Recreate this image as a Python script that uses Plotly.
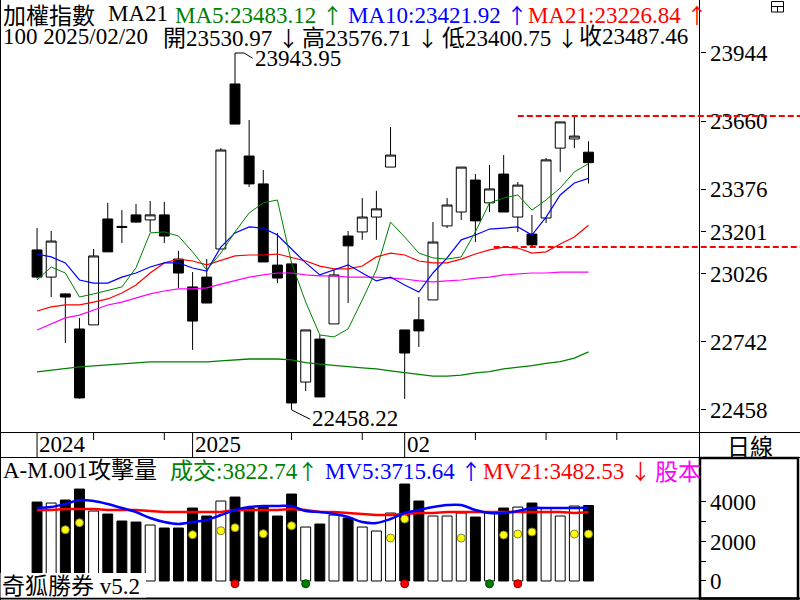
import plotly.graph_objects as go

# ---------------- data ----------------
dates = ["2024-12-17", "2024-12-18", "2024-12-19", "2024-12-20", "2024-12-23", "2024-12-24",
         "2024-12-25", "2024-12-26", "2024-12-27", "2024-12-30", "2024-12-31",
         "2025-01-02", "2025-01-03", "2025-01-06", "2025-01-07", "2025-01-08", "2025-01-09",
         "2025-01-10", "2025-01-13", "2025-01-14", "2025-01-15", "2025-01-16", "2025-01-17",
         "2025-01-20", "2025-01-21", "2025-01-22",
         "2025-02-03", "2025-02-04", "2025-02-05", "2025-02-06", "2025-02-07", "2025-02-10",
         "2025-02-11", "2025-02-12", "2025-02-13", "2025-02-14", "2025-02-17", "2025-02-18",
         "2025-02-19", "2025-02-20"]

opens = [23124, 23011, 22941, 22795, 22812, 23253, 23222, 23270, 23249, 23270,
         23086, 22970, 23011, 23128, 23815, 23515, 23399, 23061, 23066, 22574,
         22753, 22816, 23182, 23199, 23261, 23469, 22791, 22833, 22916, 23224,
         23282, 23415, 23320, 23440, 23261, 23190, 23257, 23548, 23586, 23530.97]
highs = [23215, 23203, 22943, 22841, 23128, 23320, 23290, 23315, 23328, 23324,
         23120, 23032, 23086, 23548, 23943.95, 23665, 23457, 23195, 23070, 22791,
         22770, 23041, 23203, 23340, 23370, 23636, 22791, 22928, 23240, 23340,
         23469, 23440, 23478, 23519, 23407, 23270, 23507, 23657, 23682, 23576.71]
lows = [23005, 22928, 22737, 22505, 22812, 23116, 23153, 23236, 23199, 23153,
        22966, 22708, 22903, 23128, 23648, 23386, 23074, 22986, 22458.22, 22537,
        22512, 22816, 22903, 23166, 23166, 23469, 22504, 22720, 22916, 23215,
        23249, 23157, 23282, 23282, 23199, 23136, 23236, 23449, 23548, 23400.75]
closes = [23011, 23161, 22928, 22508, 23099, 23116, 23218, 23240, 23270, 23182,
          23028, 22828, 22903, 23540, 23648, 23399, 23074, 23007, 22487, 22791,
          22512, 23020, 23141, 23261, 23295, 23519, 22695, 22787, 23157, 23311,
          23469, 23245, 23378, 23282, 23394, 23145, 23499, 23657, 23598, 23487.46]

ma5 = [22999, 23053, 23028, 22928, 22941, 22957, 22970, 23050, 23195, 23199,
       23182, 23116, 23041, 23111, 23199, 23278, 23320, 23332, 23070, 22907,
       22770, 22762, 22795, 22916, 23041, 23240, 23178, 23111, 23091, 23086,
       23095, 23199, 23320, 23340, 23353, 23290, 23332, 23382, 23449, 23483.12]
ma10 = [23107, 23095, 23070, 22999, 22986, 22986, 23011, 23028, 23053, 23070,
        23070, 23049, 23036, 23136, 23195, 23220, 23215, 23186, 23128, 23070,
        23020, 23041, 23062, 23028, 22995, 23011, 22978, 22949, 23028, 23091,
        23166, 23186, 23211, 23215, 23220, 23186, 23261, 23353, 23403, 23421.92]
ma21 = [22870, 22887, 22895, 22895, 22907, 22920, 22945, 22978, 23028, 23070,
        23086, 23078, 23062, 23082, 23099, 23103, 23103, 23107, 23091, 23078,
        23057, 23045, 23045, 23057, 23095, 23111, 23103, 23078, 23070, 23070,
        23086, 23107, 23124, 23136, 23132, 23111, 23116, 23149, 23178, 23226.84]
ma60 = [22791, 22816, 22841, 22853, 22874, 22895, 22907, 22924, 22941, 22953,
        22962, 22962, 22966, 22982, 22995, 23011, 23020, 23028, 23028, 23020,
        23016, 23016, 23011, 23011, 23011, 23007, 23003, 22995, 22991, 22995,
        22999, 23007, 23011, 23020, 23024, 23028, 23028, 23032, 23032, 23032]
ma120 = [22616, 22624, 22629, 22637, 22641, 22645, 22649, 22653, 22658, 22658,
         22658, 22658, 22658, 22662, 22666, 22670, 22670, 22670, 22666, 22655,
         22649, 22645, 22638, 22633, 22629, 22621, 22613, 22605, 22599, 22599,
         22603, 22612, 22617, 22629, 22634, 22642, 22652, 22659, 22674, 22700]

volume = [3997, 3947, 4099, 4655, 3542, 3390, 3036, 2985, 2834, 2682,
          2682, 3694, 3289, 4048, 4250, 3694, 3795, 3289, 4402, 2732,
          2884, 3340, 3188, 2732, 2530, 3441, 4908, 4048, 3289, 3289,
          3441, 3238, 3441, 3694, 3744, 3947, 3694, 3289, 3795, 3822.74]
mv5 = [3694, 3744, 3896, 4099, 4048, 3896, 3694, 3491, 3188, 2985,
       2884, 2985, 3087, 3340, 3593, 3744, 3795, 3795, 3795, 3542,
       3491, 3390, 3238, 2985, 2935, 3137, 3441, 3593, 3744, 3846,
       3846, 3593, 3441, 3441, 3542, 3694, 3694, 3694, 3694, 3715.64]
mv21 = [3593, 3593, 3643, 3643, 3643, 3593, 3593, 3593, 3542, 3491,
        3491, 3491, 3491, 3491, 3593, 3593, 3593, 3593, 3643, 3593,
        3491, 3491, 3441, 3390, 3340, 3340, 3390, 3441, 3441, 3491,
        3491, 3491, 3491, 3491, 3491, 3491, 3491, 3491, 3441, 3482.53]
attack = [None, None, 2596, 2950, None, None, None, None, None, None,
          None, 2343, None, 2545, 2697, None, 2394, None, 2798, None,
          None, None, None, None, None, 2176, 3137, None, None, None,
          2176, None, None, 2328, 2378, 2479, None, None, 2378, 2378]
sig_red = [None] * 14 + [-140] + [None] * 11 + [-140] + [None] * 7 + [-140] + [None] * 5
sig_green = [None] * 19 + [-140] + [None] * 12 + [-140] + [None] * 7

price_ticks = [22458, 22742, 23026, 23201, 23376, 23660, 23944]
vol_ticks = [0, 1000, 2000, 3000, 4000]
vol_ticktext = ["0", "", "2000", "", "4000"]
resistance = 23682
support = 23136
high_label = "23943.95"
low_label = "22458.22"
week_ticks = [4, 9, 18, 23, 31, 36, 41]
period_ticks = [0, 11, 26]
period_labels = ["2024", "2025", "02"]

# ---------------- layout geometry ----------------
W, H = 800, 600
X_RANGE = [-2.62, 46.85]
PLOT_R = 699.5
XDOM = [0, PLOT_R / W]


def px(xp):
    return xp / W


def py(yp):
    return 1 - yp / H


def idx_to_paper(i):
    return XDOM[0] + (i - X_RANGE[0]) / (X_RANGE[1] - X_RANGE[0]) * (XDOM[1] - XDOM[0])


x = list(range(len(dates)))
SERIF = "Liberation Serif, Noto Sans CJK TC, serif"
CJK = "Noto Sans CJK TC, Noto Sans CJK SC, sans-serif"
FS = 23

fig = go.Figure()

fig.add_trace(go.Candlestick(
    x=x, open=opens, high=highs, low=lows, close=closes,
    increasing=dict(fillcolor="white", line=dict(color="black", width=1)),
    decreasing=dict(fillcolor="black", line=dict(color="black", width=1)),
    whiskerwidth=0, xaxis="x", yaxis="y", showlegend=False, hoverinfo="skip"))

for series, color, w in [(ma120, "#008000", 1.3), (ma60, "#FF00FF", 1.2),
                         (ma21, "#FF0000", 1.2), (ma10, "#0000FF", 1.2),
                         (ma5, "#008000", 1.0)]:
    fig.add_trace(go.Scatter(x=x, y=series, mode="lines", line=dict(color=color, width=w),
                             xaxis="x", yaxis="y", showlegend=False, hoverinfo="skip"))

vcolors = ["white" if c >= o else "black" for o, c in zip(opens, closes)]
fig.add_trace(go.Bar(x=x, y=volume, width=0.7, marker=dict(color=vcolors, line=dict(color="black", width=1)),
                     xaxis="x2", yaxis="y2", showlegend=False, hoverinfo="skip"))
fig.add_trace(go.Scatter(x=x, y=mv21, mode="lines", line=dict(color="#FF0000", width=2.5),
                         xaxis="x2", yaxis="y2", showlegend=False, hoverinfo="skip"))
fig.add_trace(go.Scatter(x=x, y=mv5, mode="lines", line=dict(color="#0000FF", width=2.5, shape="spline"),
                         xaxis="x2", yaxis="y2", showlegend=False, hoverinfo="skip"))
fig.add_trace(go.Scatter(x=x, y=attack, mode="markers",
                         marker=dict(color="#FFFF00", size=8, line=dict(color="#808040", width=1)),
                         xaxis="x2", yaxis="y2", showlegend=False, hoverinfo="skip"))
fig.add_trace(go.Scatter(x=x, y=sig_red, mode="markers",
                         marker=dict(color="#FF0000", size=8, line=dict(color="#800000", width=1)),
                         xaxis="x2", yaxis="y2", showlegend=False, hoverinfo="skip"))
fig.add_trace(go.Scatter(x=x, y=sig_green, mode="markers",
                         marker=dict(color="#008000", size=8, line=dict(color="#004000", width=1)),
                         xaxis="x2", yaxis="y2", showlegend=False, hoverinfo="skip"))

shapes = []
line_k = dict(color="black", width=1)
shapes += [
    dict(type="line", xref="paper", yref="paper", x0=px(PLOT_R), x1=px(PLOT_R), y0=0, y1=1, line=line_k),
    dict(type="line", xref="paper", yref="paper", x0=px(0.5), x1=px(0.5), y0=0, y1=1, line=line_k),
    dict(type="line", xref="paper", yref="paper", x0=0, x1=1, y0=py(432.5), y1=py(432.5), line=line_k),
    dict(type="line", xref="paper", yref="paper", x0=0, x1=1, y0=py(457.5), y1=py(457.5), line=line_k),
    dict(type="line", xref="paper", yref="paper", x0=0, x1=1, y0=py(598.5), y1=py(598.5), line=dict(color="black", width=2)),
    dict(type="rect", xref="paper", yref="paper", x0=px(700), x1=px(798), y0=py(598.5), y1=py(458),
         line=dict(color="black", width=2.5)),
    dict(type="rect", xref="paper", yref="paper", x0=px(771.5), x1=px(783.5), y0=py(12), y1=py(1.5),
         line=dict(color="black", width=1)),
    dict(type="line", xref="paper", yref="paper", x0=px(771.5), x1=px(783.5), y0=py(6.5), y1=py(6.5),
         line=dict(color="black", width=1)),
    dict(type="line", xref="paper", yref="paper", x0=px(777.5), x1=px(777.5), y0=py(12), y1=py(6.5),
         line=dict(color="black", width=1)),
]
for i in period_ticks:
    shapes.append(dict(type="line", xref="x", yref="paper", x0=i, x1=i, y0=py(457), y1=py(432),
                       line=dict(color="black", width=1)))
for i in week_ticks:
    shapes.append(dict(type="line", xref="x", yref="paper", x0=i, x1=i, y0=py(440), y1=py(432),
                       line=dict(color="black", width=1)))
shapes.append(dict(type="line", xref="paper", yref="y", x0=idx_to_paper(34), x1=1,
                   y0=resistance, y1=resistance, line=dict(color="#FF0000", width=2, dash="6px,3px")))
shapes.append(dict(type="line", xref="paper", yref="y", x0=idx_to_paper(32.3), x1=1,
                   y0=support, y1=support, line=dict(color="#FF0000", width=2, dash="6px,3px")))
shapes.append(dict(type="path", xref="x", yref="y",
                   path="M 14,%s L 14.64,%s L 15.25,23922" % (highs[14], highs[14]),
                   line=dict(color="black", width=1)))
shapes.append(dict(type="path", xref="x", yref="y",
                   path="M 18,%s L 19.32,22419" % lows[18], line=dict(color="black", width=1)))
shapes.append(dict(type="rect", xref="paper", yref="paper", x0=px(0.5), x1=px(146), y0=py(597.5), y1=py(573),
                   fillcolor="white", line=dict(width=0), layer="above"))

annotations = []
UP = '<span style="font-family:Noto Sans CJK TC;font-size:21px">↑</span>'
DN = '<span style="font-family:Noto Sans CJK TC;font-size:21px">↓</span>'


def txt(s, xp, yp, color="black", size=FS, family=SERIF, anchor="left"):
    annotations.append(dict(text=s, x=px(xp), y=py(yp), xref="paper", yref="paper",
                            xanchor=anchor, yanchor="middle", showarrow=False, borderpad=0,
                            font=dict(color=color, size=size, family=family)))


G, B, R, M = "#008000", "#0000FF", "#FF0000", "#FF00FF"
# header row 1
txt("加權指數", 2, 14, family=CJK)
txt("MA21", 107, 14)
txt("MA5:23483.12 " + UP, 174, 14, G)
txt("MA10:23421.92 " + UP, 347, 14, B)
txt("MA21:23226.84 " + UP, 527, 14, R)
# header row 2
txt("100 2025/02/20", 2, 37)
txt("開23530.97 " + DN, 162, 37)
txt("高23576.71 " + DN, 301, 37)
txt("低23400.75 " + DN, 441, 37)
txt("收23487.46", 578, 37)
# volume header
txt("A-M.001攻擊量", 2, 470)
txt("成交:3822.74" + UP, 169, 470, G)
txt("MV5:3715.64 " + UP, 324, 470, B)
txt("MV21:3482.53 " + DN, 482, 470, R)
txt("股本", 654, 470, M, family=CJK)
# footer
txt("奇狐勝券 v5.2", 1, 586)
# date strip
for i, lab in zip(period_ticks, period_labels):
    annotations.append(dict(text=lab, x=i, y=py(444), xref="x", yref="paper", xanchor="left",
                            yanchor="middle", xshift=1, showarrow=False, borderpad=0,
                            font=dict(color="black", size=FS, family=SERIF)))
txt("日線", 750, 445, family=CJK, anchor="center")
annotations.append(dict(text=high_label, x=15.35, y=23921, xref="x", yref="y", xanchor="left",
                        yanchor="middle", showarrow=False, borderpad=0,
                        font=dict(color="black", size=FS, family=SERIF)))
annotations.append(dict(text=low_label, x=19.4, y=22422, xref="x", yref="y", xanchor="left",
                        yanchor="middle", showarrow=False, borderpad=0,
                        font=dict(color="black", size=FS, family=SERIF)))

axis_font = dict(color="black", size=FS, family=SERIF)
fig.update_layout(
    width=W, height=H, autosize=False,
    margin=dict(l=0, r=0, t=0, b=0, pad=0),
    paper_bgcolor="white", plot_bgcolor="white",
    boxgap=0.3, boxgroupgap=0, barmode="overlay",
    showlegend=False,
    xaxis=dict(domain=XDOM, range=X_RANGE, anchor="y", showticklabels=False, showgrid=False,
               zeroline=False, showline=False, ticks="", rangeslider=dict(visible=False), fixedrange=True),
    xaxis2=dict(domain=XDOM, range=X_RANGE, anchor="y2", showticklabels=False, showgrid=False,
                zeroline=False, showline=False, ticks="", fixedrange=True),
    yaxis=dict(domain=[py(432), 1], range=[22366.1, 24164.6], anchor="x", side="right",
               tickvals=price_ticks, ticktext=[str(v) for v in price_ticks],
               ticks="outside", ticklen=5, tickcolor="black", tickwidth=1,
               tickfont=axis_font, showgrid=False, zeroline=False, showline=False, fixedrange=True),
    yaxis2=dict(domain=[py(598), py(457)], range=[-861, 6278], anchor="x2", side="right",
                tickvals=vol_ticks, ticktext=vol_ticktext,
                ticks="outside", ticklen=5, tickcolor="black", tickwidth=1,
                tickfont=axis_font, showgrid=False, zeroline=False, showline=False, fixedrange=True),
    shapes=shapes,
    annotations=annotations,
)

fig.write_html("out.html", config=dict(displayModeBar=False, staticPlot=True))
